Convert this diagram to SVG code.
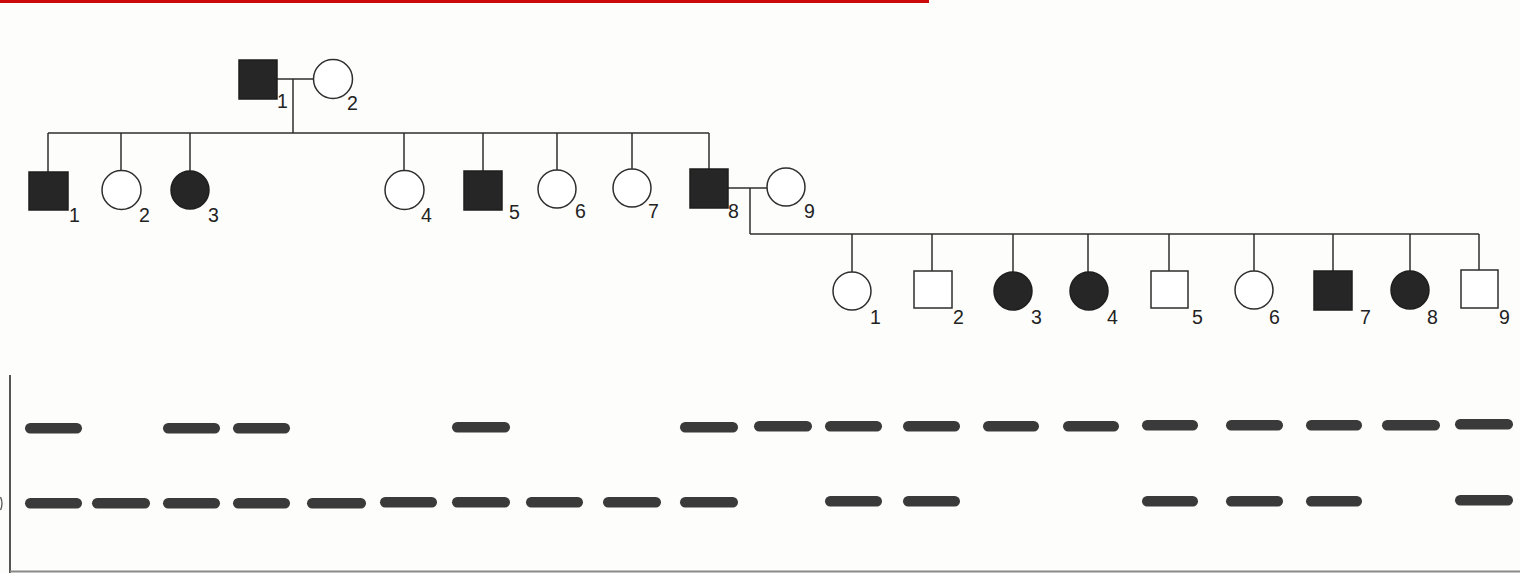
<svg xmlns="http://www.w3.org/2000/svg" width="1520" height="573" viewBox="0 0 1520 573">
<style>
.ln{stroke:#2e2e2e;stroke-width:1.5;fill:none}
.open{fill:#fff;stroke:#2e2e2e;stroke-width:1.5}
.aff{fill:#262626;stroke:#1e1e1e;stroke-width:1.5}
.lbl{font-family:"Liberation Sans",Arial,sans-serif;font-size:19.5px;fill:#222}
.band{fill:#3a3a3a}
</style>
<rect x="0" y="0" width="1520" height="573" fill="#fdfdfb"/>
<rect x="0" y="0" width="929" height="3" fill="#cc0a0a"/>
<g id="connectors">
<line class="ln" x1="277" y1="79" x2="313.5" y2="79"/>
<line class="ln" x1="293" y1="79" x2="293" y2="133"/>
<line class="ln" x1="48" y1="133" x2="709" y2="133"/>
<line class="ln" x1="48" y1="133" x2="48" y2="172"/>
<line class="ln" x1="121" y1="133" x2="121" y2="170.5"/>
<line class="ln" x1="190" y1="133" x2="190" y2="171"/>
<line class="ln" x1="404" y1="133" x2="404" y2="170.5"/>
<line class="ln" x1="483" y1="133" x2="483" y2="171"/>
<line class="ln" x1="557" y1="133" x2="557" y2="170"/>
<line class="ln" x1="632" y1="133" x2="632" y2="169"/>
<line class="ln" x1="709" y1="133" x2="709" y2="169"/>
<line class="ln" x1="728" y1="188" x2="767" y2="188"/>
<line class="ln" x1="750" y1="188" x2="750" y2="234"/>
<line class="ln" x1="750" y1="234" x2="1479" y2="234"/>
<line class="ln" x1="852" y1="234" x2="852" y2="272"/>
<line class="ln" x1="932" y1="234" x2="932" y2="271"/>
<line class="ln" x1="1013" y1="234" x2="1013" y2="272"/>
<line class="ln" x1="1088" y1="234" x2="1088" y2="272"/>
<line class="ln" x1="1169" y1="234" x2="1169" y2="271"/>
<line class="ln" x1="1254" y1="234" x2="1254" y2="271"/>
<line class="ln" x1="1333" y1="234" x2="1333" y2="271"/>
<line class="ln" x1="1410" y1="234" x2="1410" y2="271"/>
<line class="ln" x1="1479" y1="234" x2="1479" y2="270"/>
</g>
<g id="I-1"><rect class="aff" x="239" y="60" width="38" height="39"/><text class="lbl" x="277" y="108">1</text></g>
<g id="I-2"><circle class="open" cx="333" cy="79" r="19.5"/><text class="lbl" x="347" y="110">2</text></g>
<g id="II-1"><rect class="aff" x="29" y="172" width="39" height="38"/><text class="lbl" x="69" y="222">1</text></g>
<g id="II-2"><circle class="open" cx="121.5" cy="190" r="19.5"/><text class="lbl" x="139" y="222">2</text></g>
<g id="II-3"><circle class="aff" cx="190" cy="190" r="19"/><text class="lbl" x="208" y="222">3</text></g>
<g id="II-4"><circle class="open" cx="404.5" cy="190" r="19.5"/><text class="lbl" x="421" y="222">4</text></g>
<g id="II-5"><rect class="aff" x="464" y="171" width="38" height="39"/><text class="lbl" x="509" y="219">5</text></g>
<g id="II-6"><circle class="open" cx="557" cy="189" r="19"/><text class="lbl" x="575" y="218">6</text></g>
<g id="II-7"><circle class="open" cx="632" cy="188" r="19"/><text class="lbl" x="648" y="218">7</text></g>
<g id="II-8"><rect class="aff" x="690" y="169" width="38" height="39"/><text class="lbl" x="728" y="218">8</text></g>
<g id="II-9"><circle class="open" cx="786" cy="187" r="19"/><text class="lbl" x="804" y="218">9</text></g>
<g id="III-1"><circle class="open" cx="852" cy="291" r="19"/><text class="lbl" x="870" y="324">1</text></g>
<g id="III-2"><rect class="open" x="914" y="271" width="38" height="37"/><text class="lbl" x="953" y="324">2</text></g>
<g id="III-3"><circle class="aff" cx="1013" cy="291" r="19"/><text class="lbl" x="1031" y="324">3</text></g>
<g id="III-4"><circle class="aff" cx="1089" cy="291" r="19"/><text class="lbl" x="1107" y="324">4</text></g>
<g id="III-5"><rect class="open" x="1151" y="271" width="37" height="37"/><text class="lbl" x="1192" y="324">5</text></g>
<g id="III-6"><circle class="open" cx="1254" cy="290" r="19"/><text class="lbl" x="1269" y="324">6</text></g>
<g id="III-7"><rect class="aff" x="1314" y="271" width="38" height="39"/><text class="lbl" x="1360" y="324">7</text></g>
<g id="III-8"><circle class="aff" cx="1410" cy="290" r="19"/><text class="lbl" x="1427" y="324">8</text></g>
<g id="III-9"><rect class="open" x="1461" y="270" width="37" height="38"/><text class="lbl" x="1499" y="324">9</text></g>
<g id="gel">
<line x1="10" y1="375" x2="10" y2="573" stroke="#555" stroke-width="2"/>
<line x1="10" y1="571.5" x2="1520" y2="571.5" stroke="#8a8a8a" stroke-width="2"/>
<path d="M0.5 497 Q3.5 503.5 0.5 510" stroke="#555" stroke-width="1.3" fill="none"/>
<g id="row1">
<rect class="band" x="25" y="423" width="57" height="10.5" rx="5.2"/>
<rect class="band" x="163" y="423" width="57" height="10.5" rx="5.2"/>
<rect class="band" x="233" y="423" width="57" height="10.5" rx="5.2"/>
<rect class="band" x="452" y="422" width="58" height="10.5" rx="5.2"/>
<rect class="band" x="680" y="422" width="58" height="10.5" rx="5.2"/>
<rect class="band" x="754" y="421" width="58" height="10.5" rx="5.2"/>
<rect class="band" x="825" y="421" width="57" height="10.5" rx="5.2"/>
<rect class="band" x="903" y="421" width="57" height="10.5" rx="5.2"/>
<rect class="band" x="983" y="421" width="56" height="10.5" rx="5.2"/>
<rect class="band" x="1063" y="421" width="56" height="10.5" rx="5.2"/>
<rect class="band" x="1142" y="420" width="56" height="10.5" rx="5.2"/>
<rect class="band" x="1226" y="420" width="57" height="10.5" rx="5.2"/>
<rect class="band" x="1306" y="420" width="56" height="10.5" rx="5.2"/>
<rect class="band" x="1382" y="420" width="58" height="10.5" rx="5.2"/>
<rect class="band" x="1455" y="419" width="58" height="10.5" rx="5.2"/>
</g>
<g id="row2">
<rect class="band" x="25" y="498" width="57" height="10.5" rx="5.2"/>
<rect class="band" x="92" y="498" width="58" height="10.5" rx="5.2"/>
<rect class="band" x="163" y="498" width="57" height="10.5" rx="5.2"/>
<rect class="band" x="233" y="498" width="57" height="10.5" rx="5.2"/>
<rect class="band" x="307" y="498" width="59" height="10.5" rx="5.2"/>
<rect class="band" x="380" y="497" width="57" height="10.5" rx="5.2"/>
<rect class="band" x="452" y="497" width="58" height="10.5" rx="5.2"/>
<rect class="band" x="526" y="497" width="57" height="10.5" rx="5.2"/>
<rect class="band" x="603" y="497" width="58" height="10.5" rx="5.2"/>
<rect class="band" x="680" y="497" width="58" height="10.5" rx="5.2"/>
<rect class="band" x="825" y="496" width="57" height="10.5" rx="5.2"/>
<rect class="band" x="903" y="496" width="57" height="10.5" rx="5.2"/>
<rect class="band" x="1142" y="496" width="56" height="10.5" rx="5.2"/>
<rect class="band" x="1226" y="496" width="57" height="10.5" rx="5.2"/>
<rect class="band" x="1306" y="496" width="56" height="10.5" rx="5.2"/>
<rect class="band" x="1455" y="495" width="58" height="10.5" rx="5.2"/>
</g>
</g>
</svg>
